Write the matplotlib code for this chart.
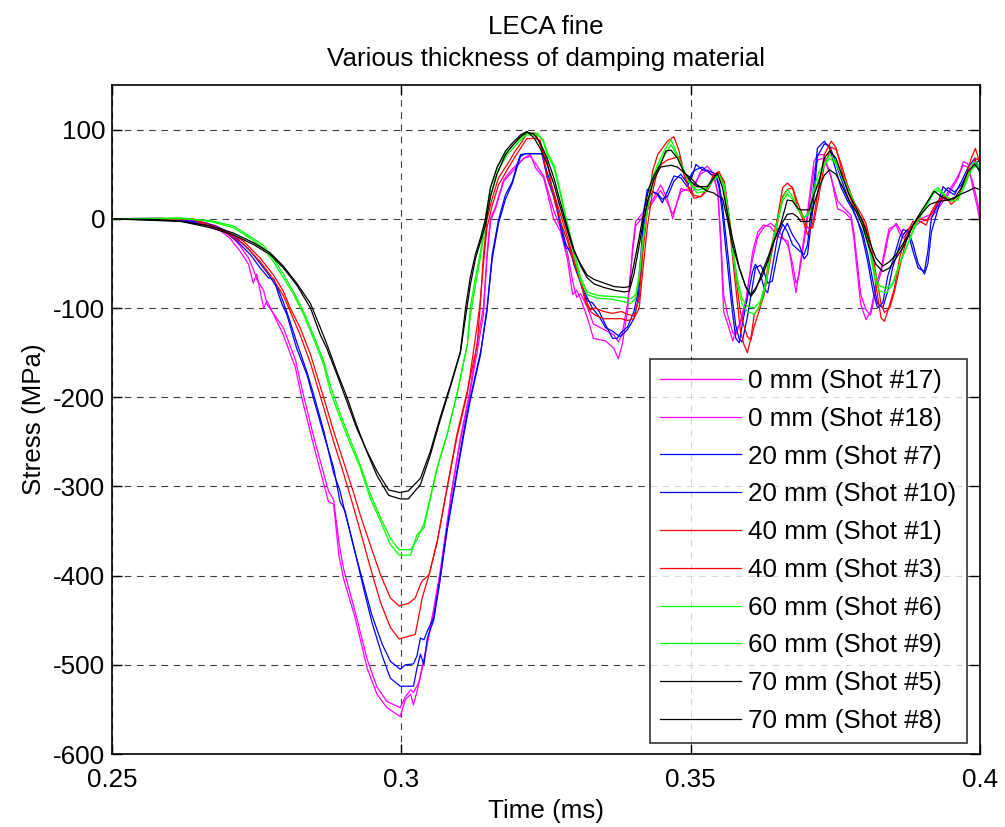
import numpy as np
import matplotlib
matplotlib.use("Agg")
import matplotlib.pyplot as plt

plt.rcParams['font.family'] = ['Liberation Sans', 'DejaVu Sans']
plt.rcParams['axes.unicode_minus'] = False

# ---- data (time in ms, stress in MPa) ----
t_0mm = [0.250, 0.258, 0.262, 0.2652, 0.2681, 0.2704, 0.2721, 0.2736, 0.2744, 0.2750,
         0.2762, 0.2768, 0.2796, 0.2817, 0.2828, 0.2848, 0.2874, 0.2883, 0.2892, 0.2900,
         0.2920, 0.2941, 0.2958, 0.2975, 0.2998, 0.3007, 0.3016, 0.3021, 0.3030, 0.3039,
         0.3056, 0.3067, 0.3088, 0.3102, 0.3117, 0.3131, 0.3142, 0.3148, 0.3154, 0.3163,
         0.3177, 0.3192, 0.3212, 0.3223, 0.3232, 0.3246, 0.3263, 0.3275, 0.3287, 0.3296,
         0.3303, 0.3310, 0.3322, 0.3332, 0.3353, 0.3367, 0.3375, 0.3382, 0.3391, 0.3400,
         0.3405, 0.3419, 0.3436, 0.3448, 0.3460, 0.3469, 0.3483, 0.3503, 0.3517, 0.3529,
         0.3540, 0.3547, 0.3552, 0.3557, 0.3564, 0.3573, 0.3578, 0.3586, 0.3595, 0.3607,
         0.3616, 0.3626, 0.3638, 0.3651, 0.3668, 0.3676, 0.3682, 0.3687, 0.3694, 0.3702,
         0.3713, 0.3720, 0.3730, 0.3742, 0.3754, 0.3765, 0.3777, 0.3782, 0.3789, 0.3794,
         0.3803, 0.3811, 0.3820, 0.3829, 0.3837, 0.3843, 0.3855, 0.3860, 0.3867, 0.3875,
         0.3898, 0.3915, 0.3927, 0.3945, 0.3962, 0.3971, 0.3979, 0.3988, 0.3997, 0.4005]
s_shot17 = [0, 1, -1, -5, -10, -22, -36, -51, -72, -62,
            -100, -92, -130, -167, -201, -253, -317, -320, -377, -403,
            -447, -504, -533, -548, -558, -539, -533, -545, -522, -496,
            -440, -399, -302, -249, -201, -149, -107, -45, -3, 12,
            42, 53, 68, 72, 57, 46, 0, -14, -45, -85,
            -80, -90, -112, -134, -137, -145, -157, -140, -103, -29,
            -3, 8, 23, 38, 22, 0, 34, 30, 53, 59,
            50, 27, -29, -104, -118, -137, -124, -118, -96, -37,
            -15, -7, -9, -20, -25, -59, -83, -60, -29, 8,
            64, 72, 72, 49, 11, 8, 0, -22, -67, -96,
            -113, -104, -74, -56, -29, -11, -7, -15, -22, -15,
            -3, 0, 11, 27, 45, 64, 62, 34, 8, -22]
s_shot18 = [0, 0, 0, -3, -8, -18, -30, -44, -56, -68,
            -80, -96, -122, -158, -190, -243, -305, -315, -362, -392,
            -440, -494, -525, -541, -548, -536, -528, -531, -520, -494,
            -437, -396, -300, -246, -198, -140, -98, -40, 0, 14,
            44, 56, 68, 70, 62, 48, 10, -10, -38, -70,
            -88, -84, -100, -118, -125, -130, -138, -128, -95, -35,
            -8, 4, 20, 32, 18, 5, 30, 36, 50, 55,
            46, 30, -20, -85, -108, -128, -130, -115, -92, -45,
            -20, -10, -5, -12, -30, -50, -72, -64, -35, 0,
            55, 66, 68, 48, 20, 12, 4, -15, -55, -85,
            -102, -108, -80, -60, -35, -15, -5, -10, -18, -12,
            0, 5, 14, 30, 48, 60, 58, 40, 15, -18]

t_20mm = [0.250, 0.262, 0.2664, 0.2693, 0.2716, 0.2739, 0.2756, 0.2770, 0.2780, 0.2788,
          0.2794, 0.2802, 0.2819, 0.2837, 0.2848, 0.2866, 0.2883, 0.2894, 0.2903, 0.2918,
          0.2935, 0.2949, 0.2967, 0.2981, 0.2998, 0.3007, 0.3021, 0.3027, 0.3033, 0.3039,
          0.3045, 0.3056, 0.3067, 0.3079, 0.3091, 0.3108, 0.3119, 0.3137, 0.3148, 0.3157,
          0.3168, 0.3180, 0.3192, 0.3200, 0.3206, 0.3215, 0.3243, 0.3252, 0.3264, 0.3272,
          0.3278, 0.3284, 0.3292, 0.3298, 0.3313, 0.3321, 0.3330, 0.3342, 0.3353, 0.3365,
          0.3373, 0.3379, 0.3391, 0.3402, 0.3408, 0.3414, 0.3419, 0.3425, 0.3434, 0.3443,
          0.3451, 0.3460, 0.3471, 0.3483, 0.3494, 0.3503, 0.3509, 0.3520, 0.3535, 0.3543,
          0.3549, 0.3555, 0.3560, 0.3566, 0.3572, 0.3578, 0.3584, 0.3589, 0.3598, 0.3607,
          0.3612, 0.3621, 0.3627, 0.3633, 0.3641, 0.3650, 0.3659, 0.3667, 0.3676, 0.3688,
          0.3696, 0.3702, 0.3711, 0.3719, 0.3731, 0.3740, 0.3748, 0.3760, 0.3771, 0.3780,
          0.3789, 0.3797, 0.3806, 0.3815, 0.3823, 0.3832, 0.3841, 0.3849, 0.3861, 0.3867,
          0.3875, 0.3884, 0.3893, 0.3904, 0.3910, 0.3916, 0.3927, 0.3936, 0.3945, 0.3956,
          0.3968, 0.3979, 0.3991, 0.3999, 0.4005]
s_shot7 = [0, -2, -7, -14, -25, -40, -55, -66, -68, -85,
           -96, -107, -145, -175, -201, -242, -279, -317, -328, -369,
           -410, -444, -477, -496, -505, -500, -499, -490, -470, -472,
           -462, -447, -403, -347, -302, -238, -201, -149, -104, -40,
           -1, 27, 42, 61, 72, 73, 73, 46, 23, 1,
           -18, -33, -33, -51, -78, -92, -94, -104, -119, -134,
           -134, -128, -121, -104, -85, -40, 8, 33, 31, 27,
           18, 31, 48, 46, 36, 48, 61, 55, 53, 50,
           35, 5, -29, -66, -104, -134, -139, -119, -89, -59,
           -51, -63, -78, -83, -55, -21, -6, -14, -29, -36,
           -40, -29, 27, 79, 87, 79, 61, 35, 20, 10,
           -3, -21, -48, -81, -100, -94, -63, -48, -21, -12,
           -14, -36, -55, -59, -36, 1, 16, 36, 31, 27,
           42, 57, 68, 53, 31]
s_shot10 = [0, -1, -5, -12, -22, -36, -50, -62, -72, -80,
            -90, -104, -138, -172, -196, -238, -285, -305, -330, -368,
            -415, -452, -490, -515, -524, -524, -524, -504, -488, -500,
            -470, -450, -405, -350, -305, -242, -204, -152, -100, -45,
            -5, 22, 40, 58, 70, 73, 73, 52, 28, 5,
            -12, -28, -38, -48, -75, -88, -100, -110, -122, -126,
            -130, -132, -124, -112, -95, -60, -10, 20, 30, 28,
            22, 25, 42, 50, 40, 52, 55, 58, 50, 48,
            40, 15, -15, -50, -90, -120, -135, -138, -110, -75,
            -55, -52, -60, -72, -70, -40, -15, -5, -18, -30,
            -45, -40, 10, 70, 84, 82, 68, 45, 25, 12,
            -3, -15, -40, -70, -95, -100, -80, -55, -30, -18,
            -12, -28, -50, -62, -50, -15, 10, 28, 35, 30,
            38, 52, 62, 65, 50]

t_40mm = [0.250, 0.264, 0.2698, 0.2727, 0.2756, 0.2779, 0.2796, 0.2808, 0.2825, 0.2843,
          0.2866, 0.2883, 0.2900, 0.2915, 0.2929, 0.2946, 0.2964, 0.2981, 0.2996, 0.3013,
          0.3024, 0.3033, 0.3036, 0.3048, 0.3062, 0.3079, 0.3096, 0.3114, 0.3131, 0.3136,
          0.3142, 0.3148, 0.3157, 0.3168, 0.3183, 0.3197, 0.3209, 0.3217, 0.3232, 0.3240,
          0.3252, 0.3264, 0.3275, 0.3287, 0.3298, 0.3310, 0.3319, 0.3327, 0.3335, 0.3350,
          0.3365, 0.3380, 0.3391, 0.3402, 0.3411, 0.3417, 0.3425, 0.3434, 0.3443, 0.3451,
          0.3460, 0.3471, 0.3480, 0.3488, 0.3497, 0.3506, 0.3518, 0.3529, 0.3540, 0.3549,
          0.3558, 0.3563, 0.3569, 0.3575, 0.3581, 0.3586, 0.3592, 0.3598, 0.3604, 0.3610,
          0.3618, 0.3627, 0.3638, 0.3650, 0.3659, 0.3667, 0.3676, 0.3685, 0.3693, 0.3702,
          0.3711, 0.3720, 0.3731, 0.3743, 0.3751, 0.3760, 0.3771, 0.3783, 0.3795, 0.3803,
          0.3812, 0.3821, 0.3829, 0.3835, 0.3844, 0.3852, 0.3861, 0.3872, 0.3884, 0.3896,
          0.3907, 0.3916, 0.3927, 0.3939, 0.3950, 0.3962, 0.3973, 0.3985, 0.3992, 0.3999,
          0.4005]
s_shot1 = [0, 0, -14, -25, -44, -63, -81, -100, -122, -152,
           -201, -238, -272, -302, -332, -365, -399, -425, -434, -431,
           -425, -410, -406, -399, -362, -302, -242, -193, -141, -100,
           -40, -1, 23, 46, 61, 76, 87, 96, 96, 83,
           64, 23, -3, -25, -48, -70, -92, -102, -100, -104,
           -106, -104, -107, -109, -89, -40, 8, 53, 72, 79,
           87, 92, 76, 53, 33, 23, 25, 35, 50, 53,
           38, 12, -21, -59, -96, -126, -141, -150, -134, -107,
           -100, -78, -36, 1, 35, 40, 35, 12, 1, -18,
           -5, 30, 72, 87, 80, 57, 31, 12, 1, -10,
           -40, -78, -111, -115, -96, -78, -44, -18, -3, -3,
           -7, 8, 20, 27, 16, 23, 42, 68, 79, 64,
           55]
s_shot3 = [0, -1, -16, -28, -48, -68, -86, -104, -130, -162,
           -212, -250, -285, -318, -350, -390, -430, -458, -471, -468,
           -466, -436, -425, -399, -362, -302, -245, -196, -120, -95,
           -50, -10, 15, 38, 55, 70, 82, 90, 90, 88,
           46, 28, 5, -20, -45, -72, -95, -104, -108, -112,
           -112, -112, -114, -112, -100, -60, -10, 30, 55, 62,
           66, 68, 70, 50, 35, 26, 25, 32, 45, 52,
           42, 20, -10, -45, -80, -105, -120, -132, -136, -120,
           -104, -85, -45, -5, 25, 33, 35, 18, 5, -10,
           -10, 20, 60, 80, 78, 62, 38, 18, 5, -5,
           -30, -65, -95, -105, -100, -82, -55, -25, -8, 0,
           -2, 5, 18, 25, 20, 25, 38, 55, 68, 65,
           60]

t_60mm = [0.250, 0.262, 0.2670, 0.2710, 0.2739, 0.2762, 0.2779, 0.2796, 0.2814, 0.2831,
          0.2848, 0.2866, 0.2877, 0.2894, 0.2912, 0.2929, 0.2946, 0.2964, 0.2981, 0.2996,
          0.3016, 0.3027, 0.3039, 0.3048, 0.3062, 0.3079, 0.3096, 0.3114, 0.3119, 0.3128,
          0.3137, 0.3145, 0.3154, 0.3168, 0.3183, 0.3200, 0.3215, 0.3235, 0.3245, 0.3252,
          0.3264, 0.3275, 0.3287, 0.3298, 0.3310, 0.3321, 0.3339, 0.3362, 0.3385, 0.3396,
          0.3405, 0.3411, 0.3417, 0.3425, 0.3434, 0.3443, 0.3454, 0.3466, 0.3477, 0.3488,
          0.3500, 0.3511, 0.3526, 0.3537, 0.3549, 0.3558, 0.3566, 0.3572, 0.3581, 0.3589,
          0.3598, 0.3610, 0.3621, 0.3630, 0.3638, 0.3650, 0.3659, 0.3667, 0.3676, 0.3685,
          0.3696, 0.3705, 0.3713, 0.3722, 0.3731, 0.3740, 0.3751, 0.3763, 0.3774, 0.3786,
          0.3797, 0.3809, 0.3818, 0.3826, 0.3838, 0.3849, 0.3861, 0.3875, 0.3887, 0.3904,
          0.3919, 0.3927, 0.3939, 0.3950, 0.3962, 0.3973, 0.3985, 0.3994, 0.4005]
s_shot6 = [0, 1, -3, -10, -22, -33, -48, -66, -85, -107,
           -134, -164, -193, -223, -253, -279, -313, -339, -365, -377,
           -377, -354, -347, -320, -279, -242, -197, -141, -100, -66,
           -36, -1, 35, 61, 76, 87, 96, 96, 87, 72,
           57, 27, -10, -40, -70, -85, -89, -90, -93, -95,
           -89, -66, -29, 12, 46, 61, 76, 89, 72, 53,
           38, 29, 31, 42, 48, 35, 1, -36, -74, -96,
           -104, -107, -96, -74, -40, -3, 23, 33, 25, 12,
           1, 8, 35, 53, 61, 72, 64, 46, 31, 12,
           -7, -36, -66, -81, -83, -74, -51, -29, -10, 12,
           31, 35, 27, 20, 21, 38, 61, 64, 49]
s_shot9 = [0, 0, -2, -8, -20, -30, -44, -62, -82, -104,
           -130, -160, -186, -218, -248, -276, -308, -335, -358, -371,
           -371, -360, -342, -318, -279, -242, -197, -141, -110, -75,
           -42, -8, 25, 55, 72, 84, 94, 94, 89, 75,
           60, 30, -5, -35, -66, -82, -86, -87, -88, -90,
           -85, -62, -25, 10, 40, 58, 70, 83, 70, 55,
           40, 32, 34, 44, 50, 38, 5, -30, -68, -90,
           -98, -100, -92, -70, -38, -2, 20, 28, 22, 10,
           2, 5, 30, 45, 60, 68, 62, 44, 30, 12,
           -5, -32, -60, -75, -78, -72, -50, -28, -8, 10,
           28, 32, 26, 22, 24, 36, 55, 60, 46]

t_70mm = [0.250, 0.258, 0.262, 0.2670, 0.2710, 0.2745, 0.2773, 0.2796, 0.2819, 0.2843,
          0.2860, 0.2871, 0.2889, 0.2906, 0.2923, 0.2941, 0.2958, 0.2978, 0.2998, 0.3012,
          0.3033, 0.3050, 0.3067, 0.3085, 0.3102, 0.3111, 0.3119, 0.3128, 0.3137, 0.3145,
          0.3154, 0.3165, 0.3180, 0.3192, 0.3206, 0.3217, 0.3229, 0.3240, 0.3252, 0.3264,
          0.3275, 0.3287, 0.3298, 0.3310, 0.3321, 0.3333, 0.3350, 0.3368, 0.3385, 0.3394,
          0.3402, 0.3411, 0.3419, 0.3428, 0.3437, 0.3448, 0.3457, 0.3466, 0.3477, 0.3488,
          0.3500, 0.3511, 0.3529, 0.3540, 0.3546, 0.3555, 0.3563, 0.3572, 0.3584, 0.3595,
          0.3604, 0.3612, 0.3624, 0.3633, 0.3644, 0.3656, 0.3667, 0.3676, 0.3685, 0.3690,
          0.3705, 0.3713, 0.3722, 0.3731, 0.3740, 0.3751, 0.3763, 0.3774, 0.3786, 0.3797,
          0.3809, 0.3820, 0.3832, 0.3844, 0.3855, 0.3870, 0.3884, 0.3898, 0.3913, 0.3921,
          0.3933, 0.3945, 0.3956, 0.3968, 0.3979, 0.3991, 0.4005]
s_shot5 = [0, -2, -3, -10, -18, -29, -40, -55, -74, -100,
           -130, -145, -175, -205, -235, -261, -283, -304, -307, -305,
           -291, -261, -223, -186, -149, -100, -66, -40, -21, -1,
           35, 57, 76, 85, 94, 98, 91, 79, 61, 38,
           12, -14, -36, -51, -63, -68, -72, -76, -77, -76,
           -51, -21, 8, 35, 49, 61, 76, 77, 68, 53,
           42, 36, 36, 46, 51, 35, 8, -21, -55, -76,
           -87, -80, -59, -44, -25, -5, 21, 20, 12, 10,
           10, 27, 42, 68, 76, 68, 46, 27, 12, -3,
           -25, -44, -53, -48, -40, -25, -7, 8, 23, 31,
           25, 21, 23, 35, 53, 61, 49]
s_shot8 = [0, -1, -3, -8, -16, -27, -38, -53, -72, -95,
           -122, -140, -172, -200, -232, -262, -288, -310, -314, -314,
           -298, -265, -226, -188, -150, -110, -75, -45, -25, -8,
           25, 50, 72, 82, 92, 97, 95, 85, 68, 45,
           18, -10, -34, -53, -66, -73, -77, -80, -82, -81,
           -62, -30, 0, 25, 45, 58, 59, 60, 58, 52,
           46, 38, 31, 29, 26, 23, 1, -29, -55, -76,
           -85, -78, -64, -48, -25, -7, 5, 6, 2, -3,
           -3, 16, 35, 49, 55, 50, 35, 20, 8, -8,
           -33, -51, -59, -55, -44, -29, -7, 5, 16, 18,
           20, 21, 24, 28, 31, 35, 31]

series = [
    (t_0mm, s_shot17, '#ff00ff', '0 mm (Shot #17)'),
    (t_0mm, s_shot18, '#ff00ff', '0 mm (Shot #18)'),
    (t_20mm, s_shot7, '#0000ff', '20 mm (Shot #7)'),
    (t_20mm, s_shot10, '#0000ff', '20 mm (Shot #10)'),
    (t_40mm, s_shot1, '#ff0000', '40 mm (Shot #1)'),
    (t_40mm, s_shot3, '#ff0000', '40 mm (Shot #3)'),
    (t_60mm, s_shot6, '#00ff00', '60 mm (Shot #6)'),
    (t_60mm, s_shot9, '#00ff00', '60 mm (Shot #9)'),
    (t_70mm, s_shot5, '#000000', '70 mm (Shot #5)'),
    (t_70mm, s_shot8, '#000000', '70 mm (Shot #8)'),
]

fs = 18.7

fig = plt.figure(figsize=(10.05, 8.27), dpi=100)
ax = fig.add_axes([112 / 1005, 1 - 754 / 827, 868 / 1005, 669 / 827])

for t, s, c, lab in series:
    ax.plot(t, s, color=c, linewidth=0.9, label=lab)

ax.set_xlim(0.25, 0.4)
ax.set_ylim(-600, 150)
ax.set_xticks([0.25, 0.3, 0.35, 0.4])
ax.set_xticklabels(['0.25', '0.3', '0.35', '0.4'])
ax.set_yticks(np.arange(-600, 101, 100))
ax.tick_params(direction='in', length=7, width=1, top=True, right=True,
               labelsize=fs, pad=5)
ax.tick_params(axis='x', pad=10)
ax.grid(True, color='0.25', linestyle=(0, (6, 5)), linewidth=0.8)
for sp in ax.spines.values():
    sp.set_linewidth(1.2)

ax.set_xlabel('Time (ms)', fontsize=fs, labelpad=5)
ax.set_ylabel('Stress (MPa)', fontsize=fs, labelpad=5)
ax.set_title('LECA fine\nVarious thickness of damping material', fontsize=fs,
             linespacing=1.4, pad=14)

leg = ax.legend(loc='lower right', bbox_to_anchor=(0.985, 0.016), borderaxespad=0,
                fontsize=fs, frameon=True, fancybox=False, edgecolor='k',
                handlelength=3.1, handletextpad=0.3, labelspacing=0.53,
                borderpad=0.4)
leg.get_frame().set_linewidth(1.2)

fig.savefig('out.png', dpi=100)
